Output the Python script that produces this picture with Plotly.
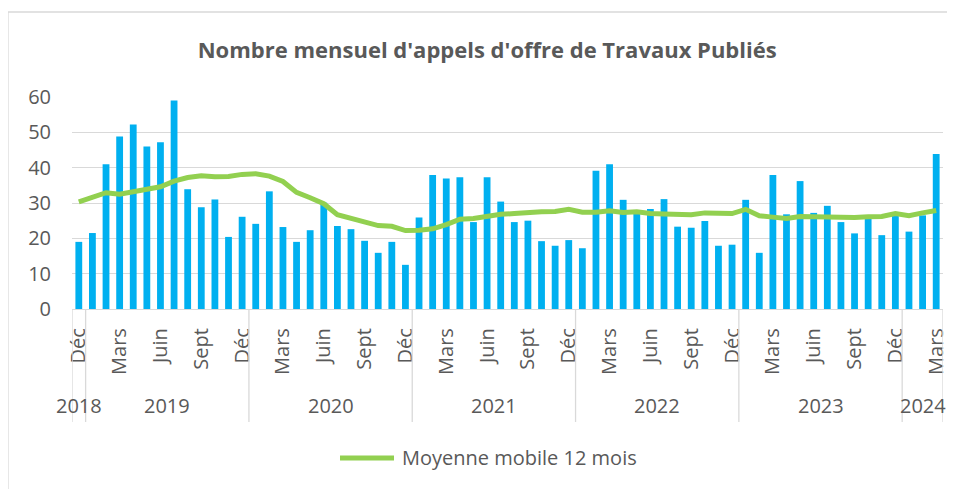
import plotly.graph_objects as go

month_names = ["Janv", "Févr", "Mars", "Avr", "Mai", "Juin", "Juil", "Août", "Sept", "Oct", "Nov", "Déc"]

# Monthly counts Dec 2018 -> Mar 2024
appels_2018 = [19.0]
appels_2019 = [21.5, 41.0, 48.8, 52.2, 46.0, 47.2, 59.0, 33.9, 28.8, 31.0, 20.4, 26.1]
appels_2020 = [24.1, 33.3, 23.2, 19.0, 22.3, 30.1, 23.5, 22.6, 19.3, 15.9, 19.0, 12.5]
appels_2021 = [25.9, 37.9, 36.9, 37.3, 24.6, 37.3, 30.4, 24.6, 25.0, 19.2, 17.9, 19.5]
appels_2022 = [17.2, 39.1, 41.0, 30.9, 28.0, 28.3, 31.1, 23.3, 23.0, 24.9, 17.9, 18.2]
appels_2023 = [30.9, 15.9, 37.9, 26.8, 36.2, 27.2, 29.2, 24.6, 21.4, 25.5, 20.9, 26.5]
appels_2024 = [21.9, 26.5, 43.9]

mm_2018 = [30.3]
mm_2019 = [31.5, 32.9, 32.5, 33.3, 34.0, 34.6, 36.2, 37.2, 37.7, 37.4, 37.5, 38.1]
mm_2020 = [38.3, 37.6, 36.1, 33.0, 31.5, 29.8, 26.7, 25.7, 24.9, 23.6, 23.4, 22.2]
mm_2021 = [22.3, 22.7, 23.9, 25.4, 25.6, 26.3, 26.8, 27.0, 27.4, 27.5, 27.6, 28.2]
mm_2022 = [27.4, 27.4, 27.8, 27.3, 27.5, 27.0, 26.9, 26.8, 26.7, 27.2, 27.2, 27.0]
mm_2023 = [28.2, 26.4, 26.0, 25.6, 26.2, 26.1, 26.0, 26.1, 25.9, 26.1, 26.2, 27.0]
mm_2024 = [26.4, 27.2, 27.9]

years = ["2018", "2019", "2020", "2021", "2022", "2023", "2024"]
appels_by_year = [appels_2018, appels_2019, appels_2020, appels_2021, appels_2022, appels_2023, appels_2024]
mm_by_year = [mm_2018, mm_2019, mm_2020, mm_2021, mm_2022, mm_2023, mm_2024]
first_month = [11, 0, 0, 0, 0, 0, 0]

appels, moyenne, labels = [], [], []
group_bounds = []
for yr, vals, mm, fm in zip(years, appels_by_year, mm_by_year, first_month):
    start = len(appels)
    appels += vals
    moyenne += mm
    labels += [month_names[fm + k] for k in range(len(vals))]
    group_bounds.append((yr, start, len(appels) - 1))

x = list(range(len(appels)))
tick_idx = [i for i, m in enumerate(labels) if m in ("Mars", "Juin", "Sept", "Déc")]
tick_txt = [labels[i] for i in tick_idx]

FONT = "Open Sans"
GREY = "#595959"
GRID = "#D9D9D9"

fig = go.Figure()
fig.add_trace(go.Bar(x=x, y=appels, marker=dict(color="#00B0F0", line=dict(width=0)),
                     width=0.5, showlegend=False, name="Appels d'offre"))
fig.add_trace(go.Scatter(x=x, y=moyenne, mode="lines", line=dict(color="#92D050", width=5),
                         showlegend=False, name="Moyenne mobile 12 mois"))

# Year separators and labels
shapes = []
annotations = []
bounds = sorted(set([b[1] - 0.5 for b in group_bounds] + [group_bounds[-1][2] + 0.5]))
for b in bounds:
    shapes.append(dict(type="line", xref="x", yref="paper", x0=b, x1=b, y0=0, y1=-0.533,
                       line=dict(color=GRID, width=1.3)))
for yr, s, e in group_bounds:
    annotations.append(dict(x=(s + e) / 2, y=-0.453, xref="x", yref="paper", text=yr,
                            showarrow=False, yanchor="middle", xanchor="center",
                            font=dict(family=FONT, size=20, color=GREY)))

# Outer chart border (left and top edges visible)
shapes.append(dict(type="line", xref="paper", yref="paper", x0=-0.0735, x1=-0.0735, y0=1.401, y1=-0.9,
                   line=dict(color=GRID, width=1.3)))
shapes.append(dict(type="line", xref="paper", yref="paper", x0=-0.0735, x1=1.1, y0=1.401, y1=1.401,
                   line=dict(color=GRID, width=1.3)))

# Legend
shapes.append(dict(type="line", xref="paper", yref="paper", x0=0.3077, x1=0.3697, y0=-0.7028, y1=-0.7028,
                   line=dict(color="#92D050", width=5)))
annotations.append(dict(x=0.3766, y=-0.7028, xref="paper", yref="paper", text="Moyenne mobile 12 mois",
                        showarrow=False, xanchor="left", yanchor="middle",
                        font=dict(family=FONT, size=20, color=GREY)))

fig.update_layout(
    width=947, height=481,
    margin=dict(l=64, r=12, t=89, b=180, autoexpand=False),
    paper_bgcolor="white", plot_bgcolor="white",
    title=dict(text="<b>Nombre mensuel d'appels d'offre de Travaux Publiés</b>",
               x=0.506, xanchor="center", y=1 - 42 / 481, yanchor="middle",
               font=dict(family=FONT, size=22, color=GREY)),
    xaxis=dict(range=[-0.5, len(appels) - 0.5], tickmode="array", tickvals=tick_idx, ticktext=tick_txt,
               tickangle=-90, tickfont=dict(family=FONT, size=20, color=GREY),
               showgrid=False, showline=True, linecolor=GRID, linewidth=1.3, ticks="",
               ticklabelstandoff=10, zeroline=False, automargin=False),
    yaxis=dict(range=[0, 60], tickvals=[0, 10, 20, 30, 40, 50, 60], showgrid=True, gridcolor=GRID,
               gridwidth=1.3, zeroline=False, showline=False, ticks="", automargin=False,
               tickfont=dict(family=FONT, size=20, color=GREY), ticklabelstandoff=20),
    shapes=shapes, annotations=annotations, bargap=0.5, showlegend=False,
)

fig.write_html("out.html")
